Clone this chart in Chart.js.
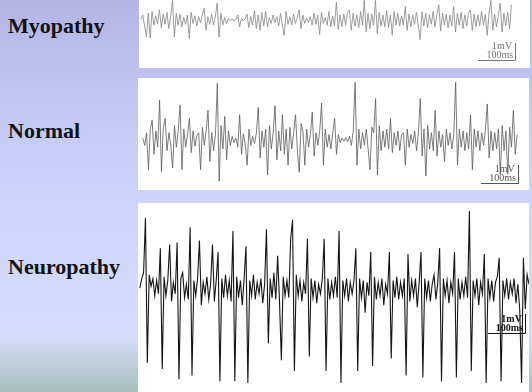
<!DOCTYPE html>
<html>
<head>
<meta charset="utf-8">
<script src="https://cdn.jsdelivr.net/npm/chart.js@4.4.1/dist/chart.umd.min.js"></script>
<style>
  html, body { margin: 0; padding: 0; }
  body {
    width: 532px; height: 392px; overflow: hidden; position: relative;
    background: linear-gradient(to bottom, #b4b4e4 0%, #c2c6f2 25%, #ccd4fc 50%, #d4dcfc 86%, #b4c8cc 96%, #a8bfbc 100%);
    font-family: "Liberation Serif", "Times New Roman", serif;
  }
  .label { position: absolute; left: 8px; font-weight: bold; font-size: 22px; line-height: 22px; color: #111; }
  .panel { position: absolute; background: #fff; }
  .panel canvas { display: block; }
</style>
</head>
<body>
<div class="label" style="top:15px">Myopathy</div>
<div class="label" style="top:120px">Normal</div>
<div class="label" style="top:256px">Neuropathy</div>

<div class="panel" style="left:139px;top:0px;width:391px;height:68px"><canvas id="myoChart" width="391" height="68"></canvas></div>
<div class="panel" style="left:138px;top:78px;width:391px;height:112px"><canvas id="normChart" width="391" height="112"></canvas></div>
<div class="panel" style="left:138px;top:203px;width:391px;height:189px"><canvas id="neuroChart" width="391" height="189"></canvas></div>

<script>
// amostragem: uma leitura a cada 5 ms
const sampleMs = 5;
const startMs = [5, 13, 5]; // myopathy, normal, neuropathy

const myopathyMv = [
  0.05, 0.3, -0.35, -1.0, 0.4, -1.05, 0.5, -0.3, 0.25, -0.2,
  0.6, -0.45, 0.35, -0.25, 0.45, -0.5, 0.2, 1.15, -1.0, 0.4,
  -0.3, 0.35, -0.4, 0.15, -0.25, 0.3, -1.1, 0.45, -0.2, 0.25,
  -0.35, 0.2, -0.15, 0.3, 0.7, -0.6, 0.2, -0.25, 0.35, -0.3,
  0.2, 1.0, -1.0, 0.4, -0.3, 0.15, -0.2, 0.1, -0.05, 0.08,
  -0.06, 0.05, 0.3, -0.4, 0.1, -0.05, 0.07, 0.35, -0.45, 0.2,
  -0.3, 0.55, -0.5, 0.3, -0.6, 0.45, -0.35, 0.5, -0.4, 0.15,
  -0.2, 0.3, -0.15, 0.2, -0.35, 0.4, -0.3, -0.9, 0.5, -0.25,
  0.2, -0.3, 0.35, -0.2, 0.15, 0.6, -0.5, 0.3, -0.2, 0.1,
  -0.15, 0.2, -0.3, 0.4, -0.25, 0.3, -0.85, 0.45, -0.2, 0.15,
  -0.3, 0.5, -0.4, 0.25, -0.35, 1.05, -0.55, 0.3, -0.4, 0.35,
  -0.3, 0.45, 0.6, -0.6, 0.4, -0.35, 0.3, -0.45, 0.5, -0.3,
  1.15, -0.7, 0.4, -0.5, 0.35, -0.3, 1.15, -0.8, 0.45, -0.35,
  0.3, -0.4, 0.55, -0.45, 0.3, -0.9, 0.5, -0.3, 0.4, -0.35,
  0.25, -0.3, 0.8, -0.6, 0.35, -0.4, 0.3, -0.25, 0.45, -0.3,
  -1.15, 0.5, -0.35, 0.4, -0.45, 0.3, -0.25, 0.5, -0.4, 0.35,
  0.9, -0.65, 0.4, -0.3, 0.35, -0.45, 0.3, -0.35, 0.8, -0.7,
  0.4, -0.3, 0.45, -0.5, 0.3, -0.35, 0.4, 0.6, -0.6, 0.35,
  -0.4, 0.3, -0.35, 0.5, -0.3, 0.35, -0.9, 0.4, 1.15, -0.6,
  0.35, -0.4, 0.3, 1.0, -0.7, 0.4, -0.35, 0.45, -0.5, 0.9
];

const normalMv = [
  0.1, -0.3, 0.4, -1.65, 0.6, 1.1, -0.8, 0.5, -0.4, 2.2,
  -1.75, 0.7, 1.2, -0.6, 0.4, -0.3, -1.55, 0.8, -0.4, 0.5,
  1.95, -1.65, 0.6, -0.4, 0.3, 1.2, -0.7, 0.5, -0.35, 0.25,
  0.4, -1.65, 0.7, -0.3, 0.5, 1.65, -1.2, 0.4, -0.6, 0.3,
  3.15, -2.28, 0.8, -0.5, 1.3, -1.1, 0.5, -0.3, 0.2, -0.15,
  0.1, -0.4, 1.4, -0.8, 0.35, -0.25, -1.4, 0.6, -0.3, 0.2,
  -0.2, 0.4, 1.8, -1.0, 0.5, -0.4, 0.6, -1.95, 0.8, -0.5,
  0.4, 1.9, -1.1, 0.5, -0.6, 1.4, -0.8, 0.6, -1.4, 0.7,
  -0.5, 0.4, 1.4, -0.6, -1.8, 0.9, 0.5, -1.4, 0.6, -0.4,
  0.3, 1.55, -0.9, 0.4, -0.3, 0.5, 2.05, -1.4, 0.6, -0.4,
  0.3, -0.5, 0.4, 1.2, -0.8, 0.3, -0.15, 0.1, -0.08, 0.12,
  -0.1, 0.2, -0.3, 0.5, 3.2, -1.4, 0.6, -0.5, 0.4, -0.3,
  0.6, -0.5, -1.65, 0.7, 0.4, 2.3, -1.95, 0.8, -0.6, 0.5,
  -0.4, 0.6, -0.5, 1.2, -0.7, 0.4, -0.3, 0.5, -0.6, 0.3,
  0.4, -1.4, 0.6, -0.4, 0.3, -0.2, 0.5, -0.6, 0.4, 2.3,
  -0.9, 0.6, -2.0, 0.8, -0.5, 0.4, -0.6, 1.65, -0.9, 0.5,
  -0.4, 0.3, -1.2, 0.6, -0.3, 0.4, -0.5, 0.3, 3.2, -1.4,
  0.6, -0.4, 0.5, -0.6, 0.4, -0.5, 1.4, -1.65, 0.6, -0.4,
  0.5, -0.6, 0.4, -0.3, 0.6, 2.0, -1.0, 0.5, -0.6, 0.4,
  -0.5, 0.6, -1.9, 0.8, -0.6, 0.5, -1.9, 0.7, -0.4, 1.65,
  -0.8, 0.3
];

const neuropathyMv = [
  0.1, 0.6, 0.9, 3.8, -3.84, 0.8, 0.2, 0.6, -0.3, 0.5,
  -0.2, 2.2, -4.16, 0.7, -0.3, 0.5, 2.4, -0.6, 0.4, -0.2,
  2.5, -4.7, 0.6, 0.9, -0.4, 0.3, -0.5, 3.3, -4.5, 0.5,
  -0.3, 0.6, 2.6, -0.8, 0.4, -0.2, 0.7, -0.5, 0.3, 2.4,
  -0.6, 0.5, 2.0, -4.8, 0.6, -0.4, 0.8, -0.3, 0.5, -0.6,
  3.1, -4.8, 0.7, -0.4, 0.5, -0.8, 0.6, 2.3, -4.9, 0.5,
  -0.3, 0.8, -0.5, 0.4, -0.2, 0.6, -0.7, 0.3, 3.2, -2.8,
  0.6, -0.4, 0.9, -0.5, 1.8, -0.6, -3.7, 0.7, -0.3, 0.5,
  -0.4, 2.7, 3.7, -4.26, 0.8, -0.3, 0.5, -0.6, 0.4, -0.2,
  2.7, -3.5, 0.6, -0.4, 0.5, -0.7, 0.3, -0.2, 0.6, 2.7,
  -4.26, 0.6, -0.5, 0.4, -0.3, 0.7, -0.4, 3.1, -4.9, 0.5,
  -0.3, 0.6, -0.6, 0.4, -0.2, 0.5, 2.2, -4.26, 0.6, -0.4,
  0.5, -1.2, 0.4, -0.3, 2.0, -4.0, 0.7, -0.5, 0.4, -0.3,
  0.6, -0.8, 0.3, -0.2, 2.0, -3.6, 0.5, -0.4, 0.7, -0.5,
  0.4, -0.3, 0.6, -4.5, 1.9, -0.6, 0.5, -0.3, 0.6, -0.9,
  0.4, 2.0, -4.6, 0.6, -0.4, 0.5, -0.6, 0.3, 0.8, -0.5,
  0.4, 2.2, -4.8, 0.6, -0.3, 0.5, -0.7, 0.4, -0.2, 2.0,
  -4.6, 0.6, -0.5, 0.4, -0.3, 0.7, -0.4, 4.16, -4.26, 0.5,
  -0.3, 0.6, -0.8, 0.4, -0.2, 1.9, -4.9, 0.6, -0.4, 0.5,
  -0.6, 0.4, 0.7, 1.7, -4.8, 0.5, -0.3, 0.6, -0.5, 0.4,
  -0.2, 0.6, -0.7, 0.3, -1.0, -4.9, 1.7, -1.0, 0.8, 0.3
];

const scaleBarText = ['1mV', '100ms'];

// desenha a barra de escala (1 mV x 100 ms) usando as escalas do gráfico
const scaleBarPlugin = {
  id: 'scaleBar',
  afterDatasetsDraw(chart, args, opts) {
    const { ctx, scales } = chart;
    const xR = scales.x.getPixelForValue(opts.t);
    const xL = scales.x.getPixelForValue(opts.t - 100);
    const yB = scales.y.getPixelForValue(opts.v);
    const yT = scales.y.getPixelForValue(opts.v + 1);
    ctx.save();
    ctx.strokeStyle = opts.color;
    ctx.lineWidth = 1;
    ctx.beginPath();
    ctx.moveTo(Math.round(xL), Math.round(yB) + 0.5);
    ctx.lineTo(Math.round(xR) + 0.5, Math.round(yB) + 0.5);
    ctx.lineTo(Math.round(xR) + 0.5, Math.round(yT));
    ctx.stroke();
    ctx.fillStyle = opts.color;
    ctx.font = opts.font;
    ctx.textAlign = 'right';
    ctx.textBaseline = 'alphabetic';
    ctx.fillText(scaleBarText[0], xR - 3, yB - 11);
    ctx.fillText(scaleBarText[1], xR - 2, yB - 2);
    ctx.restore();
  }
};

function makeTrace(id, values, t0, yMin, yMax, color, width, bar) {
  const ctx = document.getElementById(id).getContext('2d');
  return new Chart(ctx, {
    type: 'line',
    data: {
      datasets: [{
        data: values.map((v, i) => ({ x: t0 + i * sampleMs, y: v })),
        borderColor: color,
        borderWidth: width,
        pointRadius: 0,
        tension: 0,
        fill: false
      }]
    },
    options: {
      responsive: false,
      animation: false,
      layout: { padding: 0 },
      scales: {
        x: { type: 'linear', min: 0, max: 1050, display: false },
        y: { min: yMin, max: yMax, display: false }
      },
      plugins: {
        legend: { display: false },
        tooltip: { enabled: false },
        scaleBar: bar
      }
    },
    plugins: [scaleBarPlugin]
  });
}

makeTrace('myoChart', myopathyMv, startMs[0], -2.82, 1.18, '#858585', 0.8,
  { t: 1010, v: -2.35, color: '#777', font: '10px "Liberation Serif"' });
makeTrace('normChart', normalMv, startMs[1], -2.78, 3.44, '#5a5a5a', 0.8,
  { t: 1020, v: -2.39, color: '#555', font: '10px "Liberation Serif"' });
makeTrace('neuroChart', neuropathyMv, startMs[2], -5.37, 4.58, '#151515', 1.1,
  { t: 1039, v: -2.26, color: '#111', font: 'bold 10px "Liberation Serif"' });
</script>
</body>
</html>
